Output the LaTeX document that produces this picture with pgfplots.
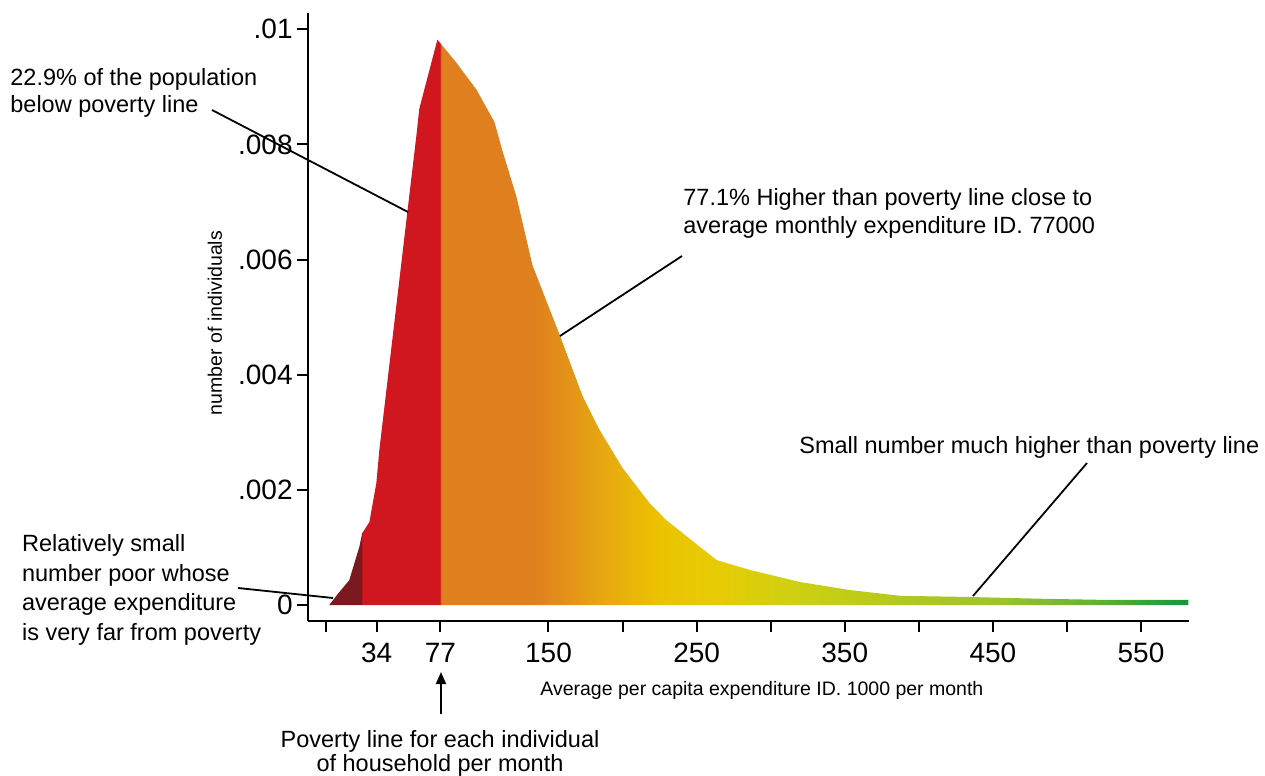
\documentclass[border=0pt]{standalone}
\usepackage{fontspec}
\setmainfont{Liberation Sans}
\usepackage{pgfplots}
\pgfplotsset{compat=1.18}
\usetikzlibrary{arrows.meta}

\definecolor{dkred}{RGB}{122,26,32}
\definecolor{povred}{RGB}{208,22,30}
\definecolor{orng}{RGB}{224,127,30}
\definecolor{amber}{RGB}{230,166,18}
\definecolor{yel}{RGB}{235,195,0}
\definecolor{yel2}{RGB}{230,204,4}
\definecolor{lime1}{RGB}{204,208,18}
\definecolor{lime2}{RGB}{178,200,30}
\definecolor{lime3}{RGB}{156,196,42}
\definecolor{grn1}{RGB}{98,176,56}
\definecolor{grn2}{RGB}{20,150,60}

% path bbox x=2..582 maps to 25bp..75bp
\pgfdeclarehorizontalshading{expshade}{100bp}{color(0bp)=(dkred); color(26.89bp)=(dkred); color(26.9bp)=(povred); color(31.46bp)=(povred); color(31.47bp)=(orng); color(36.9bp)=(orng); color(40.73bp)=(amber); color(44.22bp)=(yel); color(47.67bp)=(yel2); color(52.41bp)=(lime1); color(58.45bp)=(lime2); color(64.05bp)=(lime3); color(69.66bp)=(grn1); color(75bp)=(grn2); color(100bp)=(grn2)}

\pgfplotstableread{
x y
2 0
8 0.0002
15.5 0.00043
22.3 0.00101
24.3 0.00125
29.1 0.00144
33.8 0.00212
35.8 0.00269
54.7 0.00682
60.8 0.00815
62.8 0.00862
75 0.00982
87.8 0.00942
101.4 0.00895
113.5 0.00839
118.9 0.00789
128.4 0.00709
139.2 0.0059
157.4 0.0047
173 0.00363
184.5 0.00304
200 0.00238
218.2 0.00177
229.7 0.00147
263.5 0.00078
285.8 0.00061
319.6 0.0004
353.4 0.00026
387.2 0.00016
432.4 0.00014
480 0.00011
522 0.00009
582 0.00009
}\density

\newcommand{\annfont}{\fontsize{11.75}{14}\selectfont}

\begin{document}
\begin{tikzpicture}[x=0.5pt,y=0.5pt]
\begin{axis}[
  at={(154pt,-310.5pt)}, anchor=south west,
  scale only axis, width=440.5pt, height=304pt,
  xmin=-12.35, xmax=582.4, ymin=-0.000278, ymax=0.010283,
  axis x line*=bottom, axis y line*=left,
  axis line style={line width=1pt, black},
  tick align=outside, major tick length=5.5pt,
  tick style={line width=1pt, black},
  xtick={0,34,77,150,200,250,300,350,400,450,500,550},
  xticklabels={,34,77,150,,250,,350,,450,,550},
  ytick={0,0.002,0.004,0.006,0.008,0.01},
  yticklabels={0,.002,.004,.006,.008,.01},
  scaled y ticks=false,
  tick label style={font=\fontsize{14}{14}\selectfont},
  yticklabel style={inner sep=2pt},
  xticklabel style={inner sep=0pt, yshift=-5.5pt},
  /pgf/number format/assume math mode=true,
]
\addplot[draw=none, shade, shading=expshade] table[x=x, y=y] {\density} \closedcycle;
\end{axis}

% axis titles
\node[rotate=90, font=\fontsize{9.75}{10}\selectfont] at (215,-323) {number of individuals};
\node[anchor=base west, inner sep=0pt, font=\fontsize{9.75}{10}\selectfont] at (540,-695) {Average per capita expenditure ID. 1000 per month};

% annotations
\node[anchor=base west, inner sep=0pt, font=\annfont] at (10,-85) {22.9\% of the population};
\node[anchor=base west, inner sep=0pt, font=\annfont] at (10,-112.7) {below poverty line};
\draw[line width=0.9pt] (212,-110) -- (408,-212);

\node[anchor=base west, inner sep=0pt, font=\annfont] at (683,-205) {77.1\% Higher than poverty line close to};
\node[anchor=base west, inner sep=0pt, font=\annfont] at (683,-233.3) {average monthly expenditure ID. 77000};
\draw[line width=0.9pt] (682,-256) -- (560,-336);

\node[anchor=base west, inner sep=0pt, font=\annfont] at (799,-453) {Small number much higher than poverty line};
\draw[line width=0.9pt] (1087,-463) -- (973,-596);

\node[anchor=base west, inner sep=0pt, font=\annfont] at (21.7,-551.7) {Relatively small};
\node[anchor=base west, inner sep=0pt, font=\annfont] at (21.7,-581.2) {number poor whose};
\node[anchor=base west, inner sep=0pt, font=\annfont] at (21.7,-610.7) {average expenditure};
\node[anchor=base west, inner sep=0pt, font=\annfont] at (21.7,-640) {is very far from poverty};
\draw[line width=0.9pt] (238,-588) -- (333,-598);

\draw[line width=0.9pt, -{Triangle[length=6pt,width=5pt]}] (441,-714) -- (441,-672);
\node[anchor=base, inner sep=0pt, font=\annfont] at (440,-747) {Poverty line for each individual};
\node[anchor=base, inner sep=0pt, font=\annfont] at (440,-771) {of household per month};

\pgfresetboundingbox
\path[use as bounding box] (0,0) rectangle (1265,-776);
\end{tikzpicture}
\end{document}
